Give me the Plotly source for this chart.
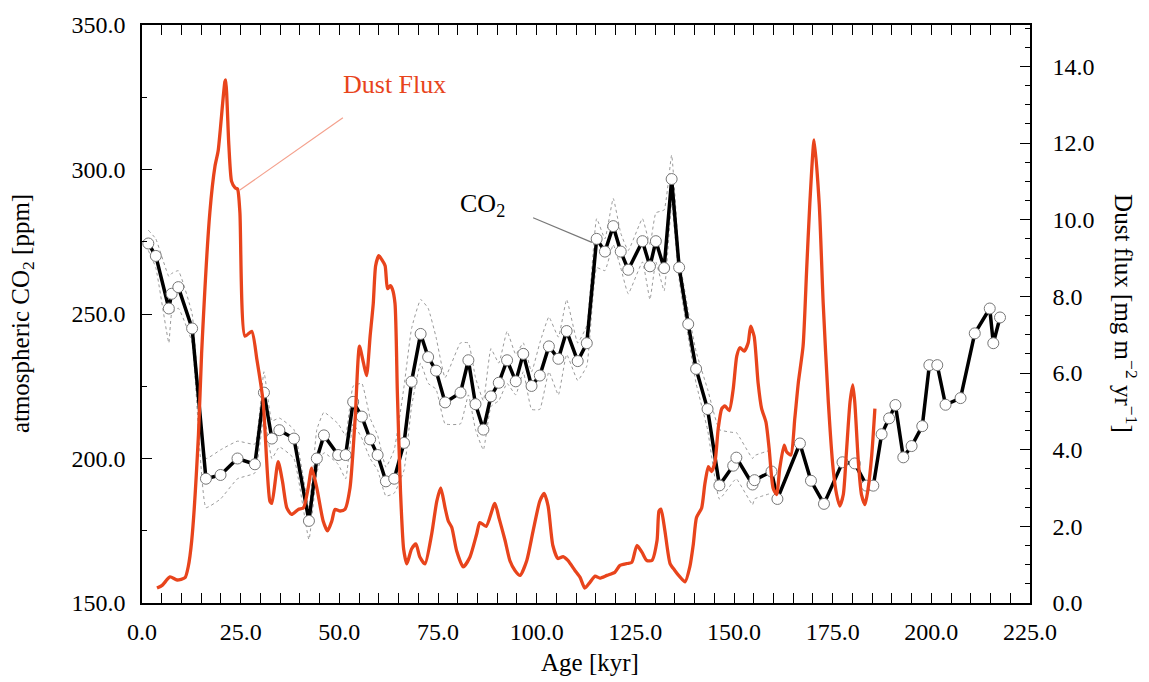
import plotly.graph_objects as go

# ---------------- data ----------------
co2_age = [1.6, 3.5, 6.8, 7.5, 9.2, 12.7,
           16.2, 19.9, 24.2, 28.6, 30.9, 32.9, 34.8, 38.5, 42.3, 44.3, 46.1,
           49.7, 51.6, 53.5, 55.7, 57.8, 59.7, 61.8, 63.9, 66.4, 68.3,
           70.6, 72.5, 74.5, 76.8, 80.7, 82.7, 84.5, 86.5, 88.4, 90.4,
           92.5, 94.7, 96.6, 98.7, 100.8, 103.1, 105.5, 107.6, 110.4, 112.7,
           115.2, 117.3, 119.4, 121.3, 123.2, 126.8, 128.7, 130.2, 132.3, 134.2,
           136.1, 138.4, 140.4, 143.3, 146.3, 149.8, 150.6, 154.7, 155.2, 159.5,
           161.0, 166.7, 169.5, 172.8, 177.5, 180.6, 183.6, 185.3, 187.4, 189.3,
           190.9, 192.9, 195.0, 197.7, 199.5, 201.5, 203.6, 207.4, 211.0, 214.8,
           215.7, 217.4]
co2_ppm = [274.4, 270.1, 251.9, 257.0, 259.3, 245.0,
           193.0, 194.3, 200.0, 198.0, 222.8, 206.9, 209.8, 206.9, 178.4, 200.0, 208.0,
           201.2, 201.2, 219.6, 214.5, 206.6, 201.2, 192.1, 193.0, 205.4, 226.6,
           243.1, 235.1, 230.4, 219.4, 222.8, 234.0, 218.8, 210.0, 221.5, 226.2,
           234.0, 226.7, 236.2, 225.1, 228.7, 238.8, 234.5, 244.1, 233.7, 239.9,
           276.0, 271.6, 280.4, 271.6, 265.3, 275.2, 266.5, 275.2, 265.9, 296.7,
           266.1, 246.5, 231.0, 217.1, 190.7, 197.5, 200.3, 191.0, 192.5, 195.5,
           186.0, 205.2, 192.3, 184.3, 198.7, 198.3, 190.6, 190.6, 208.4, 213.9,
           218.5, 200.4, 204.3, 211.2, 232.3, 232.3, 218.6, 220.9, 243.3, 251.9,
           239.9, 248.8]

env_age = co2_age[:67]
co2_upper = [279, 276, 263, 264, 265, 250,
             200, 203, 206, 205, 230, 213, 214, 210, 183, 210, 216,
             212, 208, 225, 226, 214, 208, 197, 203, 225, 245,
             255, 252, 242, 228, 240, 240, 228, 220, 238, 233,
             244, 236, 240, 230, 240, 249, 242, 255, 240, 246,
             283, 276, 290, 278, 272, 283, 274, 285, 286, 305,
             270, 251, 237, 224, 210, 209, 209, 200, 201, 203]
co2_lower = [272, 266, 240, 250, 252, 240,
             183, 186, 193, 195, 215, 200, 204, 200, 172, 195, 202,
             198, 193, 212, 207, 200, 196, 187, 188, 196, 218,
             233, 226, 224, 212, 212, 222, 210, 203, 218, 220,
             226, 222, 230, 217, 217, 230, 222, 236, 227, 232,
             266, 265, 274, 266, 257, 268, 255, 268, 258, 288,
             262, 242, 226, 210, 186, 192, 193, 184, 186, 188]

dust_age = [3.8, 5.1, 7.1, 8.9, 10.9, 11.7, 12.6, 14.3, 15.1, 17.2, 18.5, 19.3,
            21.0, 21.2, 22.0, 22.7, 23.6, 24.2, 24.8, 26.1, 27.8, 29.1, 30.7,
            32.4, 32.9, 34.5, 35.6, 36.7, 37.9, 39.6, 40.9, 42.1, 43.0, 44.3,
            45.9, 47.0, 48.1, 48.9, 50.2, 51.4, 52.7, 54.0, 55.1, 56.1, 56.9,
            57.8, 58.6, 59.2, 60.0, 60.8, 61.6, 62.2, 62.9, 63.4, 64.1, 64.7,
            65.5, 66.3, 67.1, 68.3, 69.4, 70.4, 71.7, 73.4, 74.7, 75.7, 76.8,
            77.6, 78.5, 79.7, 81.4, 83.1, 84.8, 85.6, 87.2, 89.4, 90.5, 92.0,
            93.2, 94.5, 95.8, 97.5, 99.1, 100.8, 101.9, 102.9, 104.1, 105.4,
            106.7, 107.9, 109.7, 111.0, 112.2, 113.5, 114.8, 116.0, 117.8,
            119.8, 121.1, 122.9, 124.1, 125.4, 126.7, 127.9, 129.2, 130.5,
            131.0, 131.5, 132.5, 133.8, 135.0,
            136.3, 137.6, 138.8, 139.7, 140.5, 141.8, 142.6, 143.5, 144.3,
            145.2, 146.0, 146.9, 147.7, 148.8, 149.8, 150.7, 151.5, 152.6,
            153.6, 154.2, 155.1, 156.1, 157.0, 158.1, 158.9, 159.9, 160.8,
            161.6, 162.7, 163.3, 164.4, 165.4, 166.3, 167.5, 168.4, 169.2,
            170.3, 171.6, 172.6, 173.9, 175.1, 176.0, 176.8, 177.7, 178.5,
            179.4, 180.1, 180.6, 181.5, 182.3, 183.2, 184.0, 184.9, 185.7]
dust_flux = [0.39, 0.46, 0.68, 0.60, 0.66, 0.94, 1.63, 4.38, 6.5, 10.2, 11.4, 11.8,
             13.6, 13.65, 11.95, 11.0, 10.83, 10.8, 10.2, 6.96, 7.09, 6.36, 5.24,
             2.66, 2.6, 3.69, 3.17, 2.48, 2.31, 2.44, 2.48, 3.0, 3.52, 3.0,
             2.14, 1.88, 2.14, 2.44, 2.4, 2.44, 3.0, 4.8, 6.7, 6.27, 5.93,
             6.96, 7.82, 8.8, 9.06, 8.95, 8.8, 8.2, 8.28, 8.2, 7.82, 5.5,
             2.9, 1.4, 1.02, 1.41, 1.54, 1.2, 1.02, 1.8, 2.66, 3.0, 2.48,
             2.14, 1.97, 1.37, 0.94, 1.2, 1.8, 2.1, 2.0, 2.6, 2.2, 1.63,
             1.11, 0.85, 0.72, 1.11, 1.88, 2.66, 2.86, 2.53, 1.5, 1.16,
             1.21, 1.11, 0.85, 0.67, 0.39, 0.54, 0.70, 0.65, 0.72,
             0.8, 0.98, 1.03, 1.06, 1.5, 1.32, 1.11, 1.11, 1.63,
             2.4, 2.45, 1.88, 1.03, 0.85,
             0.68, 0.55, 0.94, 1.54, 2.23, 2.48, 3.09, 3.56, 3.43,
             3.69, 4.55, 5.07, 5.14, 5.02, 5.58, 6.44, 6.66, 6.57,
             6.79, 7.22, 6.96, 5.75, 5.07, 4.72, 4.03, 3.0, 2.83,
             3.52, 4.12, 3.95, 3.86, 4.81, 5.75, 6.70, 8.68, 10.4,
             12.08, 10.4, 7.82, 5.24, 3.52, 2.83, 2.53, 2.83, 3.95,
             5.24, 5.69, 5.24, 3.69, 2.83, 2.57, 3.0, 3.86, 5.07]

x_ticks = [0, 25, 50, 75, 100, 125, 150, 175, 200, 225]
co2_ticks = [150, 200, 250, 300, 350]
dust_ticks = [0, 2, 4, 6, 8, 10, 12, 14]

# ---------------- styling ----------------
FONT = "Liberation Serif"
RED = "#E8441C"
TICKSZ = 24

fig = go.Figure()

env_style = dict(color="#9a9a9a", width=1, dash="3px,3px", shape="spline", smoothing=0.35)
fig.add_trace(go.Scatter(x=env_age, y=co2_upper, mode="lines", line=env_style,
                         showlegend=False, hoverinfo="skip"))
fig.add_trace(go.Scatter(x=env_age, y=co2_lower, mode="lines", line=env_style,
                         showlegend=False, hoverinfo="skip"))
fig.add_trace(go.Scatter(x=co2_age, y=co2_ppm, mode="lines+markers",
                         line=dict(color="black", width=3.5),
                         marker=dict(symbol="circle", size=11, color="white",
                                     line=dict(color="#777777", width=1)),
                         showlegend=False, name="CO2"))
fig.add_trace(go.Scatter(x=dust_age, y=dust_flux, mode="lines", yaxis="y2",
                         line=dict(color=RED, width=3.3, shape="spline", smoothing=0.6),
                         showlegend=False, name="Dust Flux"))

axis_common = dict(showline=True, linecolor="black", linewidth=1.5,
                   ticks="inside", tickcolor="black", tickwidth=1.2, ticklen=10,
                   showgrid=False, zeroline=False, tickformat=".1f",
                   tickfont=dict(family=FONT, size=TICKSZ, color="black"))

fig.update_layout(
    width=1149, height=682, autosize=False,
    margin=dict(l=142, r=119, t=18, b=79, pad=0),
    plot_bgcolor="white", paper_bgcolor="white",
    font=dict(family=FONT, color="black"),
    xaxis=dict(range=[0, 225], tickvals=x_ticks, mirror="allticks",
               ticklabelstandoff=6,
               minor=dict(dtick=5, ticks="inside", ticklen=5, tickcolor="black", tickwidth=1),
               **axis_common),
    yaxis=dict(range=[150, 350], tickvals=co2_ticks, mirror=False,
               ticklabelstandoff=10,
               minor=dict(dtick=25, ticks="inside", ticklen=5, tickcolor="black", tickwidth=1),
               **axis_common),
    yaxis2=dict(range=[0, 15.08], tickvals=dust_ticks, overlaying="y", side="right",
                anchor="x", ticklabelstandoff=16,
                minor=dict(dtick=0.5, ticks="inside", ticklen=5, tickcolor="black", tickwidth=1),
                **axis_common),
)

# axis titles as annotations
fig.add_annotation(text="atmospheric CO<sub>2</sub> [ppm]", xref="paper", yref="paper",
                   x=-0.135, y=0.5, textangle=-90, showarrow=False,
                   font=dict(family=FONT, size=25, color="black"),
                   xanchor="center", yanchor="middle")
fig.add_annotation(text="Dust flux [mg m<sup>−2</sup> yr<sup>−1</sup>]", xref="paper", yref="paper",
                   x=1.108, y=0.5, textangle=90, showarrow=False,
                   font=dict(family=FONT, size=25, color="black"),
                   xanchor="center", yanchor="middle")
fig.add_annotation(text="Age [kyr]", xref="paper", yref="paper",
                   x=0.505, y=-0.103, showarrow=False,
                   font=dict(family=FONT, size=25, color="black"),
                   xanchor="center", yanchor="middle")

# series labels with leader lines
fig.add_annotation(text="Dust Flux", x=64.1, y=329.5, xref="x", yref="y", showarrow=False,
                   font=dict(family=FONT, size=26, color=RED), xanchor="center", yanchor="middle")
fig.add_shape(type="line", xref="x", yref="y", x0=50.9, y0=317.9, x1=24.8, y1=292.9,
              line=dict(color="#F4A08C", width=1.2))
fig.add_annotation(text="CO<sub>2</sub>", x=86.4, y=287.8, xref="x", yref="y", showarrow=False,
                   font=dict(family=FONT, size=26, color="black"), xanchor="center", yanchor="middle")
fig.add_shape(type="line", xref="x", yref="y", x0=99.1, y0=283.3, x1=114.0, y1=274.8,
              line=dict(color="#777777", width=1.2))

fig.write_html("out.html", config={"displayModeBar": False},
               post_script="document.body.style.margin='0';")
